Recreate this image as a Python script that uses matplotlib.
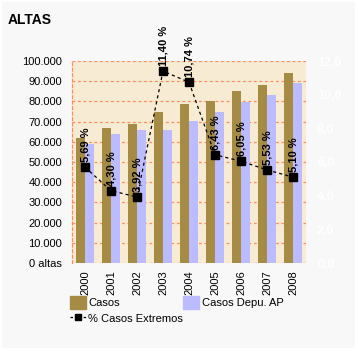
import matplotlib
matplotlib.use("Agg")
import matplotlib.pyplot as plt
import numpy as np
from matplotlib.lines import Line2D
from matplotlib.patches import Patch, Rectangle

years = ["2000", "2001", "2002", "2003", "2004", "2005", "2006", "2007", "2008"]
casos = [62000, 67000, 69000, 74900, 78700, 80400, 85300, 88100, 94200]
casos_depu = [58800, 64000, 66000, 66000, 70400, 74900, 79900, 83200, 89300]
pct_extremos = [5.69, 4.30, 3.92, 11.40, 10.74, 6.43, 6.05, 5.53, 5.10]

y_ticks = [0, 10000, 20000, 30000, 40000, 50000, 60000, 70000, 80000, 90000, 100000]
y_labels = ["0 altas", "10.000", "20.000", "30.000", "40.000", "50.000",
            "60.000", "70.000", "80.000", "90.000", "100.000"]
y2_ticks = [0, 2, 4, 6, 8, 10, 12]

COL_CASOS = "#A68B45"
COL_DEPU = "#BBBBFF"
COL_BG = "#F7EBD4"
COL_GRID = "#FF8C5A"

plt.rcParams["font.family"] = ["Liberation Sans", "DejaVu Sans"]

W, H = 358, 351
fig = plt.figure(figsize=(W / 100, H / 100), dpi=100)
fig.patch.set_facecolor("white")
fig.patches.append(Rectangle((2 / W, 3 / H), 353 / W, 346 / H, transform=fig.transFigure,
                             facecolor="#F8F8F8", edgecolor="none", zorder=-10))

ax = fig.add_axes([72 / W, 1 - 263 / H, 234 / W, 202 / H])
ax.set_facecolor(COL_BG)
x = np.arange(len(years))
ax.bar(x - 0.17, casos, width=0.34, color=COL_CASOS, zorder=2)
ax.bar(x + 0.17, casos_depu, width=0.34, color=COL_DEPU, zorder=2)
ax.set_xlim(-0.5, len(years) - 0.5)
ax.set_ylim(0, 100000)
ax.set_yticks(y_ticks)
ax.set_yticklabels(y_labels, fontsize=8)
ax.set_xticks(x)
ax.set_xticklabels(years, rotation=90, fontsize=8)
ax.tick_params(length=0, pad=7)
ax.tick_params(axis="x", pad=5)
ax.yaxis.grid(True, color=COL_GRID, linestyle=(0, (2.2, 2.2)), linewidth=0.9, zorder=1)
ax.set_axisbelow(True)
for side in ["right", "top", "bottom"]:
    ax.spines[side].set_visible(False)
ax.spines["left"].set_color(COL_GRID)
ax.spines["left"].set_linestyle((0, (2.2, 2.2)))
ax.spines["left"].set_linewidth(0.9)

ax2 = ax.twinx()
ax2.set_ylim(0, 12)
ax2.set_yticks(y2_ticks)
ax2.set_yticklabels([f"{t:.1f}".replace(".", ",") for t in y2_ticks],
                    fontsize=9, fontweight="bold", color="white")
ax2.tick_params(length=0, pad=8)
for side in ax2.spines:
    ax2.spines[side].set_visible(False)
ax2.plot(x, pct_extremos, color="black", linestyle=(0, (2.5, 2.5)), linewidth=0.9,
         marker="s", markersize=6, markerfacecolor="black", markeredgecolor="black")
for xi, v in zip(x, pct_extremos):
    ax2.annotate(f"{v:.2f} %".replace(".", ","), (xi, v), xytext=(1, 5),
                 textcoords="offset pixels", rotation=90, ha="center", va="bottom",
                 fontsize=8, fontweight="bold")

fig.text(8 / W, 1 - 24 / H, "ALTAS", fontsize=10, fontweight="bold")

handles = [Patch(color=COL_CASOS),
           Line2D([], [], color="black", linestyle=(0, (2, 1.5)), linewidth=0.9,
                  marker="s", markersize=5),
           Patch(color=COL_DEPU)]
labels = ["Casos", "% Casos Extremos", "Casos Depu. AP"]
fig.legend(handles, labels, ncol=2, loc="upper left",
           bbox_to_anchor=(70 / W, 1 - 296 / H), frameon=False, fontsize=8,
           borderpad=0, borderaxespad=0, handlelength=1.4, handleheight=1.4,
           handletextpad=0.25, columnspacing=0.0, labelspacing=0.3)

fig.savefig("out.png", dpi=100, facecolor=fig.get_facecolor())
